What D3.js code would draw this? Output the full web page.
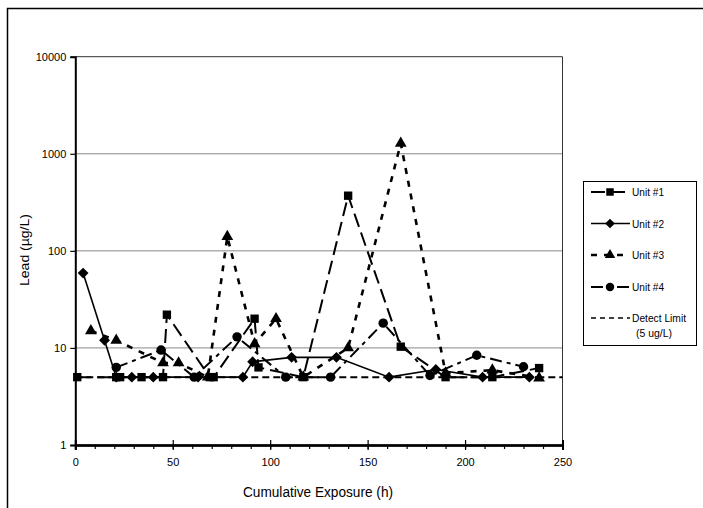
<!DOCTYPE html>
<html>
<head>
<meta charset="utf-8">
<script src="https://cdn.jsdelivr.net/npm/d3@7"></script>
<style>
  body { margin: 0; background: #fff; }
  svg text { font-family: "Liberation Sans", Arial, sans-serif; fill: #000; }
</style>
</head>
<body>
<div id="chart"></div>
<script>
// readings (hours, ug/L)
var unit1X = [1, 21, 23, 34, 45, 47, 69, 71, 92, 94, 117, 140, 167, 190, 214, 238];
var unit1Y = [5, 5, 5, 5, 5, 22, 5, 5, 20, 6.3, 5, 370, 10.3, 5, 5, 6.2];

var unit2X = [4, 15, 21, 29, 40, 63, 86, 91, 111, 134, 161, 185, 209, 233];
var unit2Y = [59, 12, 5, 5, 5, 5, 5, 7.2, 8, 8, 5, 6, 5, 5];

var unit3X = [8, 21, 45, 53, 68, 78, 92, 103, 117, 140, 167, 190, 214, 238];
var unit3Y = [15, 12, 7, 7, 5, 140, 11, 20, 5, 10, 1280, 5.5, 5.9, 4.9];

var unit4X = [21, 44, 61, 83, 108, 131, 158, 182, 206, 230];
var unit4Y = [6.3, 9.5, 5, 13, 5, 5, 18, 5.2, 8.4, 6.4];

var detectLimit = 5;
var seriesNames = ["Unit #1", "Unit #2", "Unit #3", "Unit #4"];
var xTicks = [0, 50, 100, 150, 200, 250];
var yTicks = [1, 10, 100, 1000, 10000];

var W = 703, H = 508;
var margin = {top: 56.7, right: 140, bottom: 63, left: 75.3},
    width = 562.5 - margin.left,
    height = 445 - margin.top;

var svg = d3.select("#chart")
  .append("svg")
    .attr("width", W)
    .attr("height", H);

// outer frame
svg.append("rect")
  .attr("x", 7.5).attr("y", 8.5)
  .attr("width", W + 20).attr("height", H + 20)
  .attr("fill", "none").attr("stroke", "#000").attr("stroke-width", 1.5);

var g = svg.append("g")
  .attr("transform", "translate(" + margin.left + "," + margin.top + ")");

var x = d3.scaleLinear().domain([0, 250]).range([0, width]);
var y = d3.scaleLog().domain([1, 10000]).range([height, 0]);

// grid
g.append("g")
  .selectAll("line")
  .data([10, 100, 1000])
  .enter().append("line")
    .attr("x1", 0).attr("x2", width)
    .attr("y1", function (d) { return y(d); })
    .attr("y2", function (d) { return y(d); })
    .attr("stroke", "#888").attr("stroke-width", 1);

// plot border (top + right)
g.append("path")
  .attr("d", "M0,0H" + width + "V" + height)
  .attr("fill", "none").attr("stroke", "#333").attr("stroke-width", 1);

// axes
g.append("g")
  .attr("transform", "translate(0," + height + ")")
  .call(d3.axisBottom(x).tickValues(xTicks).tickSize(5).tickPadding(8).tickFormat(d3.format("d")));
g.append("g")
  .attr("transform", "translate(0," + height + ")")
  .call(d3.axisBottom(x).tickValues(d3.range(10, 250, 10)).tickSize(4).tickFormat(""));
g.append("g")
  .attr("transform", "translate(0," + height + ")")
  .call(d3.axisBottom(x).tickValues(xTicks).tickSize(-5).tickFormat(""));
g.append("g")
  .call(d3.axisLeft(y).tickValues(yTicks).tickSize(5).tickPadding(4).tickFormat(d3.format("d")));

g.selectAll(".domain").attr("stroke", "#000").attr("stroke-width", 2);
g.selectAll(".tick line").attr("stroke", "#000").attr("stroke-width", 1.2);
g.selectAll(".tick text").style("font-size", "11px");

// detect limit
g.append("line")
  .attr("x1", 0).attr("x2", width)
  .attr("y1", y(detectLimit)).attr("y2", y(detectLimit))
  .attr("stroke", "#000").attr("stroke-width", 2)
  .attr("stroke-dasharray", "7,4");

var styles = [
  {dash: "14,6", w: 2, shape: d3.symbolSquare, size: 70},
  {dash: null, w: 1.6, shape: d3.symbolDiamond2, size: 75},
  {dash: "6,7", w: 2.6, shape: d3.symbolTriangle, size: 60},
  {dash: "12,5,4,5", w: 2, shape: d3.symbolCircle, size: 70}
];

var allX = [unit1X, unit2X, unit3X, unit4X];
var allY = [unit1Y, unit2Y, unit3Y, unit4Y];

var line = d3.line()
  .x(function (d) { return x(d[0]); })
  .y(function (d) { return y(d[1]); });

allX.forEach(function (xs, i) {
  var pts = xs.map(function (v, j) { return [v, allY[i][j]]; });
  var st = styles[i];
  g.append("path")
    .datum(pts)
    .attr("d", line)
    .attr("fill", "none")
    .attr("stroke", "#000")
    .attr("stroke-width", st.w)
    .attr("stroke-dasharray", st.dash);
  g.append("g")
    .selectAll("path")
    .data(pts)
    .enter().append("path")
      .attr("transform", function (d) { return "translate(" + x(d[0]) + "," + y(d[1]) + ")"; })
      .attr("d", d3.symbol().type(st.shape).size(st.size))
      .attr("fill", "#000");
});

// axis titles
svg.append("text")
  .attr("transform", "translate(29,250) rotate(-90)")
  .attr("text-anchor", "middle")
  .style("font-size", "13px")
  .attr("textLength", 72).attr("lengthAdjust", "spacingAndGlyphs")
  .text("Lead (\u00b5g/L)");
svg.append("text")
  .attr("x", 318).attr("y", 497)
  .attr("text-anchor", "middle")
  .style("font-size", "14px")
  .attr("textLength", 150).attr("lengthAdjust", "spacingAndGlyphs")
  .text("Cumulative Exposure (h)");

// legend
var leg = svg.append("g");
leg.append("rect")
  .attr("x", 583.5).attr("y", 181.5)
  .attr("width", 113).attr("height", 164)
  .attr("fill", "#fff").attr("stroke", "#000").attr("stroke-width", 1);

var legY = [192, 223.5, 255, 287];
seriesNames.forEach(function (name, i) {
  var st = styles[i];
  var yy = legY[i];
  leg.append("line")
    .attr("x1", 591).attr("x2", 630)
    .attr("y1", yy).attr("y2", yy)
    .attr("stroke", "#000").attr("stroke-width", st.w)
    .attr("stroke-dasharray", st.dash);
  leg.append("path")
    .attr("transform", "translate(610," + yy + ")")
    .attr("d", d3.symbol().type(st.shape).size(st.size * 0.8))
    .attr("fill", "#000");
  leg.append("text")
    .attr("x", 632).attr("y", yy + 4)
    .style("font-size", "11px")
    .attr("textLength", 32).attr("lengthAdjust", "spacingAndGlyphs")
    .text(name);
});
leg.append("line")
  .attr("x1", 591).attr("x2", 630)
  .attr("y1", 318).attr("y2", 318)
  .attr("stroke", "#000").attr("stroke-width", 1.5)
  .attr("stroke-dasharray", "5,4");
leg.append("text")
  .attr("x", 632).attr("y", 322)
  .style("font-size", "11px")
  .attr("textLength", 54).attr("lengthAdjust", "spacingAndGlyphs")
  .text("Detect Limit");
leg.append("text")
  .attr("x", 636).attr("y", 337)
  .style("font-size", "11px")
  .attr("textLength", 36).attr("lengthAdjust", "spacingAndGlyphs")
  .text("(5 ug/L)");
</script>
</body>
</html>
